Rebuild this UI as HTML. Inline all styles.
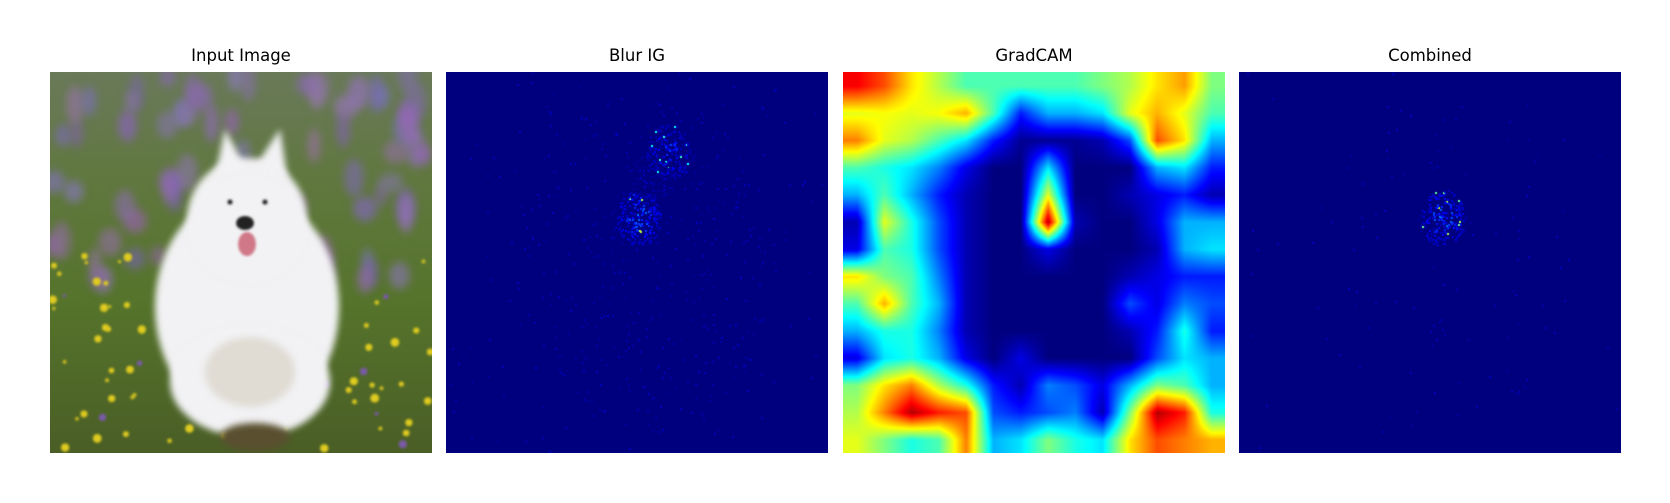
<!DOCTYPE html>
<html><head><meta charset="utf-8"><style>
html,body{margin:0;padding:0;background:#fff;}
#fig{position:relative;width:1670px;height:503px;background:#fff;font-family:"DejaVu Sans","Liberation Sans",sans-serif;}
.title{position:absolute;top:46px;width:382px;text-align:center;font-size:16.5px;color:#000;}
canvas{position:absolute;top:72px;}
</style></head><body>
<div id="fig">
<div class="title" style="left:50px">Input Image</div>
<div class="title" style="left:446px">Blur IG</div>
<div class="title" style="left:843px">GradCAM</div>
<div class="title" style="left:1239px">Combined</div>
<canvas id="c0" width="382" height="381" style="left:50px"></canvas>
<canvas id="c1" width="382" height="381" style="left:446px"></canvas>
<canvas id="c2" width="382" height="381" style="left:843px"></canvas>
<canvas id="c3" width="382" height="381" style="left:1239px"></canvas>
</div>
<script>
// GradCAM 14x14 grid values (0..1)
const camRows = 14;
const camCols = 14;
const camValues = [
[0.88,0.8,0.65,0.55,0.45,0.45,0.45,0.45,0.45,0.5,0.55,0.65,0.72,0.5],
[0.6,0.62,0.6,0.62,0.7,0.45,0.15,0.3,0.3,0.35,0.6,0.7,0.6,0.45],
[0.75,0.6,0.55,0.45,0.35,0.15,0.02,0.02,0.02,0.05,0.2,0.8,0.65,0.3],
[0.45,0.4,0.35,0.25,0.1,0.0,0.0,0.35,0.0,0.0,0.0,0.3,0.35,0.15],
[0.3,0.45,0.3,0.15,0.05,0.0,0.0,0.6,0.0,0.0,0.05,0.1,0.15,0.05],
[0.05,0.6,0.4,0.2,0.05,0.0,0.0,0.95,0.05,0.0,0.0,0.1,0.3,0.3],
[0.1,0.45,0.4,0.2,0.05,0.0,0.0,0.1,0.0,0.0,0.0,0.05,0.3,0.35],
[0.65,0.5,0.45,0.25,0.05,0.0,0.0,0.0,0.0,0.0,0.05,0.1,0.15,0.15],
[0.45,0.7,0.45,0.3,0.05,0.0,0.0,0.0,0.0,0.0,0.2,0.1,0.25,0.2],
[0.3,0.4,0.4,0.25,0.05,0.0,0.0,0.0,0.0,0.0,0.05,0.15,0.4,0.15],
[0.1,0.35,0.4,0.3,0.1,0.0,0.1,0.0,0.0,0.0,0.0,0.2,0.35,0.3],
[0.5,0.65,0.75,0.55,0.4,0.15,0.05,0.25,0.2,0.1,0.3,0.5,0.45,0.3],
[0.55,0.75,0.95,0.85,0.8,0.2,0.15,0.2,0.25,0.05,0.5,0.95,0.85,0.4],
[0.6,0.5,0.4,0.45,0.75,0.3,0.35,0.5,0.4,0.35,0.65,0.8,0.75,0.7]];
// attribution hot-spot clusters (panel-relative px, intensity)
const igClusterX = [193, 222, 205];
const igClusterY = [146, 80, 110];
const igClusterStrength = [1.0, 0.8, 0.35];
const combinedClusterX = [204];
const combinedClusterY = [146];
const combinedClusterStrength = [1.0];

function jet(v){
  v=Math.max(0,Math.min(1,v));
  const f=x=>Math.max(0,Math.min(1,x));
  const r=f(Math.min(4*v-1.5,-4*v+4.5));
  const g=f(Math.min(4*v-0.5,-4*v+3.5));
  const b=f(Math.min(4*v+0.5,-4*v+2.5));
  return [r*255|0,g*255|0,b*255|0];
}
let seed=12345;
function rnd(){seed=(seed*1103515245+12345)&0x7fffffff;return seed/0x7fffffff;}

// GradCAM
(function(){
  const c=document.getElementById('c2'),ctx=c.getContext('2d');
  const W=c.width,H=c.height,img=ctx.createImageData(W,H);
  for(let y=0;y<H;y++)for(let x=0;x<W;x++){
    let gx=x/W*camCols-0.5, gy=y/H*camRows-0.5;
    gx=Math.max(0,Math.min(camCols-1,gx)); gy=Math.max(0,Math.min(camRows-1,gy));
    const x0=Math.floor(gx),y0=Math.floor(gy),x1=Math.min(camCols-1,x0+1),y1=Math.min(camRows-1,y0+1);
    const fx=gx-x0,fy=gy-y0;
    const v=camValues[y0][x0]*(1-fx)*(1-fy)+camValues[y0][x1]*fx*(1-fy)+camValues[y1][x0]*(1-fx)*fy+camValues[y1][x1]*fx*fy;
    const col=jet(v),i=(y*W+x)*4;
    img.data[i]=col[0];img.data[i+1]=col[1];img.data[i+2]=col[2];img.data[i+3]=255;
  }
  ctx.putImageData(img,0,0);
})();

function speckle(id,cx,cy,cs,bgNoise){
  const c=document.getElementById(id),ctx=c.getContext('2d');
  ctx.fillStyle='#00007f';ctx.fillRect(0,0,382,381);
  for(let k=0;k<bgNoise;k++){
    const x=rnd()*382,y=rnd()*381;
    const dx=(x-200)/130,dy=(y-190)/170;
    if(dx*dx+dy*dy>1&&rnd()<0.85)continue;
    const col=jet(0.02+rnd()*0.05);
    ctx.fillStyle=`rgb(${col[0]},${col[1]},${col[2]})`;
    ctx.fillRect(x|0,y|0,2,2);
  }
  for(let j=0;j<cx.length;j++){
    const n=Math.round(200*cs[j]);
    for(let k=0;k<n;k++){
      const a=rnd()*Math.PI*2,r=Math.sqrt(rnd())*28;
      const x=cx[j]+Math.cos(a)*r*0.8,y=cy[j]+Math.sin(a)*r;
      const v=(0.06+rnd()*0.25*(1-r/30)+(rnd()<0.04?0.4:0))*cs[j];
      const col=jet(v);
      ctx.fillStyle=`rgb(${col[0]},${col[1]},${col[2]})`;
      ctx.fillRect(x|0,y|0,2,2);
    }
  }
}
speckle('c1',igClusterX,igClusterY,igClusterStrength,900);
speckle('c3',combinedClusterX,combinedClusterY,combinedClusterStrength,200);

// Input photo
(function(){
  const c=document.getElementById('c0'),ctx=c.getContext('2d');
  const g=ctx.createLinearGradient(0,0,0,381);
  g.addColorStop(0,'#6a7a5a');g.addColorStop(0.3,'#60783e');g.addColorStop(0.6,'#56742c');g.addColorStop(1,'#4a5e26');
  ctx.fillStyle=g;ctx.fillRect(0,0,382,381);
  ctx.filter='blur(4px)';
  for(let k=0;k<70;k++){
    const x=rnd()*382,y=rnd()*210;
    ctx.fillStyle=`rgba(${120+rnd()*40|0},${95+rnd()*30|0},${165+rnd()*40|0},0.6)`;
    ctx.beginPath();ctx.ellipse(x,y,6+rnd()*7,10+rnd()*10,0,0,7);ctx.fill();
  }
  ctx.filter='blur(1px)';
  for(let k=0;k<140;k++){
    const x=rnd()*382,y=180+rnd()*201;
    if(x>95&&x<300&&y<350&&rnd()<0.85)continue;
    ctx.fillStyle=rnd()<0.8?'#e0cc20':'#7a5aa8';
    ctx.beginPath();ctx.arc(x,y,1.5+rnd()*3,0,7);ctx.fill();
  }
  ctx.filter='blur(3px)';
  ctx.fillStyle='#f2f2f4';
  ctx.beginPath();ctx.ellipse(197,235,92,115,0,0,7);ctx.fill();
  ctx.beginPath();ctx.ellipse(200,310,80,55,0,0,7);ctx.fill();
  ctx.beginPath();ctx.ellipse(197,148,60,62,0,0,7);ctx.fill();
  ctx.beginPath();ctx.moveTo(165,105);ctx.lineTo(175,57);ctx.lineTo(195,95);ctx.fill();
  ctx.beginPath();ctx.moveTo(205,95);ctx.lineTo(230,57);ctx.lineTo(238,110);ctx.fill();
  ctx.fillStyle='#e0dcd4';
  ctx.beginPath();ctx.ellipse(200,300,45,35,0,0,7);ctx.fill();
  ctx.fillStyle='#5a5030';
  ctx.beginPath();ctx.ellipse(205,365,35,14,0,0,7);ctx.fill();
  ctx.filter='blur(1px)';
  ctx.fillStyle='#222';
  ctx.beginPath();ctx.ellipse(195,151,9,7,0,0,7);ctx.fill();
  ctx.beginPath();ctx.arc(180,130,2.5,0,7);ctx.arc(215,130,2.5,0,7);ctx.fill();
  ctx.fillStyle='#d07888';
  ctx.beginPath();ctx.ellipse(197,172,9,12,0,0,7);ctx.fill();
  ctx.filter='none';
})();
</script>
</body></html>
